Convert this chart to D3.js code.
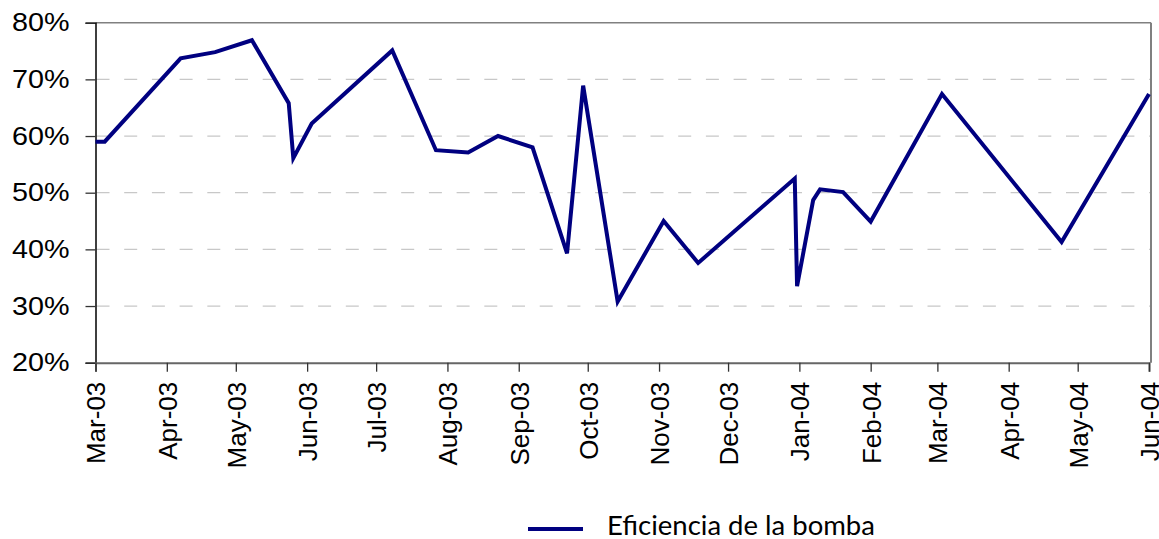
<!DOCTYPE html>
<html>
<head>
<meta charset="utf-8">
<script src="https://cdn.jsdelivr.net/npm/d3@7"></script>
<style>
  body { margin: 0; background: #fff; }
  text { font-family: "Liberation Sans", Arial, sans-serif; }
</style>
</head>
<body>
<div id="svgWrapper"></div>
<script>
// chart data
var dates = ["2003-03-01", "2003-03-05", "2003-04-07", "2003-04-22", "2003-05-08", "2003-05-24",
  "2003-05-26", "2003-06-03", "2003-07-08", "2003-07-27", "2003-08-10", "2003-08-23",
  "2003-09-07", "2003-09-22", "2003-09-29", "2003-10-14", "2003-11-03", "2003-11-18",
  "2003-12-30", "2003-12-31", "2004-01-07", "2004-01-10", "2004-01-20", "2004-02-01",
  "2004-03-03", "2004-04-24", "2004-06-01"];
var eficiencia = [0.590, 0.590, 0.737, 0.748, 0.769, 0.658,
  0.561, 0.622, 0.751, 0.575, 0.571, 0.600,
  0.580, 0.393, 0.689, 0.308, 0.450, 0.376,
  0.525, 0.335, 0.487, 0.506, 0.501, 0.449,
  0.674, 0.413, 0.674];
var yTicks = [0.2, 0.3, 0.4, 0.5, 0.6, 0.7, 0.8];
var monthTicks = ["2003-03-01", "2003-04-01", "2003-05-01", "2003-06-01", "2003-07-01", "2003-08-01",
  "2003-09-01", "2003-10-01", "2003-11-01", "2003-12-01", "2004-01-01", "2004-02-01",
  "2004-03-01", "2004-04-01", "2004-05-01", "2004-06-01"];
var seriesName = "Eficiencia de la bomba";

var fullWidth = 1159, fullHeight = 539;
var padLeft = 95.5, padRight = 1149, plotRight = 1151, padTop = 22.7, padBottom = 362.7;

var parse = d3.timeParse("%Y-%m-%d");
var data = dates.map(function(d, i) { return { date: parse(d), value: eficiencia[i] }; });
var ticks = monthTicks.map(parse);

var svg = d3.select("#svgWrapper")
  .append("svg")
  .attr("width", fullWidth)
  .attr("height", fullHeight);

var xScale = d3.scaleTime()
  .domain([parse("2003-03-01"), parse("2004-06-01")])
  .range([padLeft, padRight]);

var yScale = d3.scaleLinear()
  .domain([0.2, 0.8])
  .range([padBottom, padTop]);

// dashed gridlines
svg.append("g")
  .selectAll("line")
  .data(yTicks.slice(1, -1))
  .enter().append("line")
  .attr("x1", padLeft + 1).attr("x2", plotRight)
  .attr("y1", function(d) { return yScale(d); })
  .attr("y2", function(d) { return yScale(d); })
  .attr("stroke", "#c8c8c8")
  .attr("stroke-width", 1.3)
  .attr("stroke-dasharray", "13,14.7");

// frame top + right
svg.append("line").attr("x1", padLeft).attr("x2", plotRight).attr("y1", padTop).attr("y2", padTop)
  .attr("stroke", "#808080").attr("stroke-width", 1.5);
svg.append("line").attr("x1", plotRight).attr("x2", plotRight).attr("y1", padTop).attr("y2", padBottom)
  .attr("stroke", "#808080").attr("stroke-width", 2);

// y axis
var yAxis = svg.append("g")
  .attr("transform", "translate(" + padLeft + ",0)")
  .call(d3.axisLeft(yScale).tickValues(yTicks).tickSize(10).tickPadding(16)
    .tickFormat(d3.format(".0%")));
yAxis.select(".domain").attr("stroke", "#000").attr("stroke-width", 1.5);
yAxis.selectAll(".tick line").attr("stroke", "#333").attr("stroke-width", 1.3);
yAxis.selectAll(".tick text")
  .attr("font-size", 25)
  .attr("fill", "#000")
  .attr("font-family", "Liberation Sans, Arial, sans-serif")
  .attr("transform", function() { return "translate(-26,0) scale(1.15,1)"; })
  .attr("x", 0);

// x axis
var xAxis = svg.append("g")
  .attr("transform", "translate(0," + padBottom + ")")
  .call(d3.axisBottom(xScale).tickValues(ticks).tickSize(9)
    .tickFormat(d3.timeFormat("%b-%y")));
xAxis.select(".domain").attr("stroke", "#666").attr("stroke-width", 2);
xAxis.selectAll(".tick line").attr("stroke", "#333").attr("stroke-width", 1.3);
xAxis.selectAll(".tick text")
  .attr("font-size", 26)
  .attr("fill", "#000")
  .attr("font-family", "Liberation Sans, Arial, sans-serif")
  .attr("text-anchor", "end")
  .attr("transform", "rotate(-90)")
  .attr("x", -19)
  .attr("y", 0)
  .attr("dy", "0.36em");

// the series
var line = d3.line()
  .x(function(d) { return xScale(d.date); })
  .y(function(d) { return yScale(d.value); });

svg.append("path")
  .datum(data)
  .attr("d", line)
  .attr("fill", "none")
  .attr("stroke", "#000080")
  .attr("stroke-width", 4)
  .attr("stroke-linejoin", "miter");

// legend
svg.append("line")
  .attr("x1", 528).attr("x2", 583).attr("y1", 529).attr("y2", 529)
  .attr("stroke", "#000080").attr("stroke-width", 4);
svg.append("text")
  .attr("x", 607).attr("y", 535)
  .style("font-family", "Lato, 'Open Sans', sans-serif")
  .style("font-size", "27.5px")
  .style("fill", "#000")
  .text(seriesName);
</script>
</body>
</html>
